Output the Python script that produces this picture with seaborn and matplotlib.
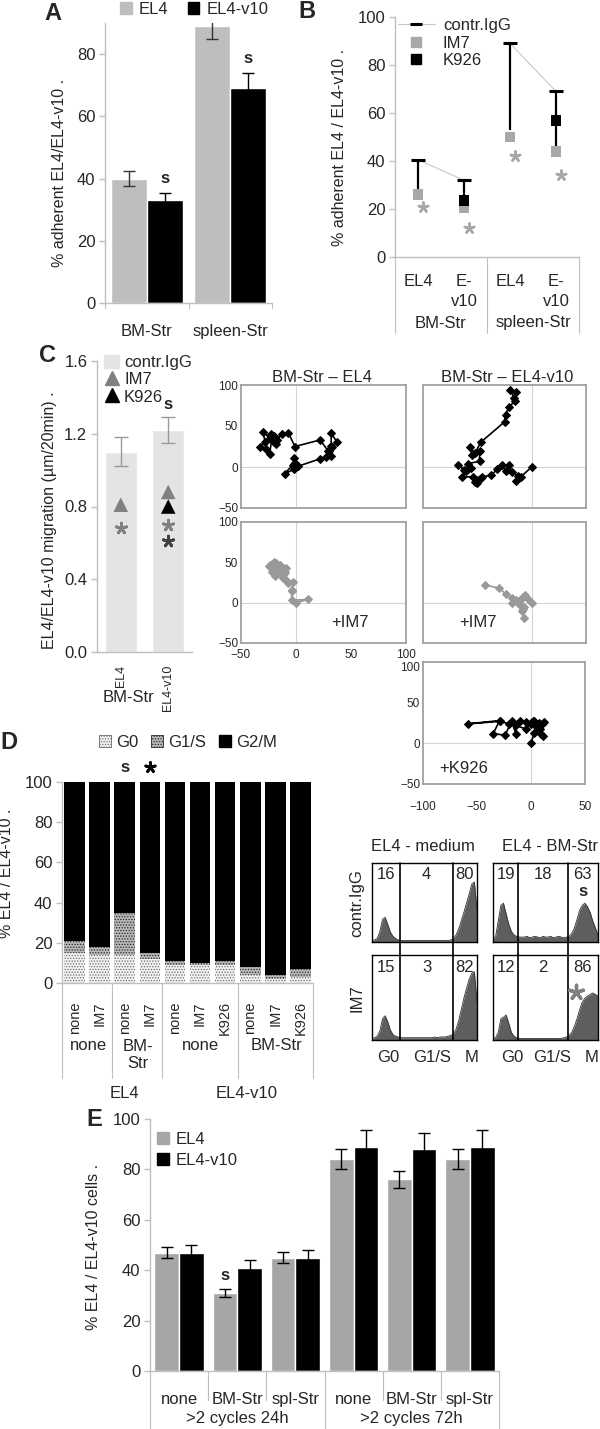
import numpy as np
import pandas as pd
import matplotlib
matplotlib.use("Agg")
import matplotlib.pyplot as plt
import seaborn as sns
from matplotlib.lines import Line2D
from matplotlib.patches import Patch

W, H = 600, 1429

# ---- A: adhesion to stroma
a_stroma = ["BM-Str", "spleen-Str"]
a_el4 = [40, 89]
a_el4_err = [2.3, 4.0]
a_v10 = [33, 69]
a_v10_err = [2.5, 5.0]

# ---- B: adhesion with antibodies
b_cells = ["EL4", "E-\nv10", "EL4", "E-\nv10"]
b_groups = ["BM-Str", "spleen-Str"]
b_contr = [40.5, 32, 89, 69]
b_contr_low = [27, 23, 53, 45]
b_im7 = [26, 20.5, 50, 44]
b_k926 = [np.nan, 23.5, np.nan, 57]
b_star = [21, 12, 42, 34]

# ---- C: migration speed
c_cells = ["EL4", "EL4-v10"]
c_contr = [1.10, 1.22]
c_contr_err = [0.08, 0.07]
c_im7 = [0.81, 0.88]
c_k926 = [np.nan, 0.80]
c_star_im7 = [0.68, 0.70]
c_star_k926 = [np.nan, 0.61]

# ---- C: migration tracks (µm)
el4_x = [0, -3, -10, -2, -1, -2, 2, 22, 27, 32, 30, 33, 37, 32, 32, 29, 22, -1, -7,
         -13, -17, -20, -23, -18, -22, -24, -27, -33, -28, -30, -24, -20]
el4_y = [0, 3, -8, -3, 5, 11, 1, 10, 12, 14, 19, 24, 31, 41, 26, 20, 33, 25, 42,
         40, 33, 38, 40, 28, 34, 16, 22, 25, 30, 43, 35, 30]
v10_x = [0, -10, -14, -13, -18, -21, -24, -27, -32, -37, -46, -50, -52, -47, -54, -64,
         -60, -68, -62, -56, -59, -48, -48, -55, -57, -52, -47, -25, -24, -21, -15, -14, -20, -16]
v10_y = [0, -12, -17, -11, -6, 3, -5, 2, -3, -10, -12, -20, -18, -13, -12, -12,
         -5, 3, -4, -1, 4, 7, 20, 15, 24, 17, 30, 55, 64, 73, 81, 91, 94, 84]
im7_el4_x = [0, 11, -4, -4, -4, -3, -7, -9, -11, -9, -13, -15, -18, -20, -23, -25, -22,
             -19, -16, -21, -24, -18, -14, -12, -17, -22, -20, -10]
im7_el4_y = [0, 4, 3, 14, 16, 25, 24, 28, 35, 43, 40, 47, 43, 50, 46, 45, 38,
             33, 37, 41, 47, 49, 45, 30, 36, 42, 35, 38]
im7_v10_x = [0, -3, -6, -8, -12, -10, -7, -9, -7, -8, -12, -14, -10, -18, -18, -24, -30, -43]
im7_v10_y = [0, 4, 10, 7, 2, -3, -5, -10, -19, -8, -2, 3, 5, 0, 6, 11, 18, 22]
k926_x = [0, 3, 9, 11, 8, 5, 2, 0, -5, -10, -14, -14, -18, -24, -35, -29, -58, -29,
          -20, -5, 0, 4, 7, 3, 10, 12, 6]
k926_y = [0, 13, 12, 9, 18, 23, 28, 24, 26, 27, 22, 12, 27, 10, 12, 28, 24, 27,
          24, 18, 25, 22, 25, 28, 24, 26, 20]

# ---- D: cell cycle (%)
d_treat = ["none", "IM7", "none", "IM7", "none", "IM7", "K926", "none", "IM7", "K926"]
d_g0 = [15, 14, 14, 12, 9, 9, 9, 4, 2, 3]
d_g1s = [6, 4, 21, 3, 2, 1, 2, 4, 2, 4]
d_g2m = [79, 82, 65, 85, 89, 90, 89, 92, 96, 93]

# ---- D: flow histograms (relative counts along DNA channel)
flow_x = np.arange(0, 100.1, 2.5)
flow_med_contr = [0.02, 0.03, 0.05, 0.15, 0.32, 0.35, 0.25, 0.14, 0.08, 0.05, 0.03, 0.02,
                  0.02, 0.02, 0.02, 0.02, 0.02, 0.02, 0.02, 0.02, 0.02, 0.02, 0.02, 0.02,
                  0.02, 0.02, 0.02, 0.02, 0.02, 0.02, 0.03, 0.05,
                  0.10, 0.18, 0.30, 0.42, 0.55, 0.68, 0.82, 0.85, 0.45]
flow_bm_contr = [0.03, 0.08, 0.30, 0.52, 0.55, 0.40, 0.25, 0.15, 0.10, 0.08, 0.07, 0.07,
                 0.07, 0.08, 0.06, 0.07, 0.08, 0.07, 0.06, 0.08, 0.07, 0.07, 0.08, 0.06,
                 0.07, 0.08, 0.07, 0.06, 0.07, 0.08,
                 0.12, 0.20, 0.32, 0.45, 0.52, 0.55, 0.50, 0.42, 0.30, 0.20, 0.10]
flow_med_im7 = [0.02, 0.03, 0.05, 0.12, 0.28, 0.32, 0.24, 0.13, 0.07, 0.05, 0.04, 0.03,
                0.03, 0.03, 0.03, 0.03, 0.03, 0.03, 0.03, 0.03, 0.03, 0.03, 0.03, 0.03,
                0.04, 0.03, 0.04, 0.04, 0.04, 0.05, 0.06, 0.08,
                0.14, 0.25, 0.40, 0.55, 0.68, 0.80, 0.88, 0.90, 0.50]
flow_bm_im7 = [0.02, 0.03, 0.10, 0.28, 0.30, 0.33, 0.22, 0.10, 0.05, 0.03, 0.02, 0.02,
               0.02, 0.02, 0.02, 0.02, 0.02, 0.02, 0.02, 0.02, 0.02, 0.02, 0.02, 0.02,
               0.02, 0.02, 0.02, 0.03, 0.04, 0.06,
               0.10, 0.18, 0.28, 0.40, 0.50, 0.55, 0.58, 0.60, 0.62, 0.60, 0.58]
flow_pct_med_contr = [16, 4, 80]
flow_pct_bm_contr = [19, 18, 63]
flow_pct_med_im7 = [15, 3, 82]
flow_pct_bm_im7 = [12, 2, 86]
gates_medium = [27, 77]
gates_bm = [24, 71]

# ---- E: proliferation
e_cond = ["none", "BM-Str", "spl-Str", "none", "BM-Str", "spl-Str"]
e_period = [">2 cycles 24h"] * 3 + [">2 cycles 72h"] * 3
e_el4 = [47, 31, 45, 84, 76, 84]
e_el4_err = [2.3, 1.7, 2.3, 4.0, 3.5, 4.0]
e_v10 = [47, 41, 45, 89, 88, 89]
e_v10_err = [3.0, 3.0, 3.0, 6.5, 6.5, 6.5]

AX_GRAY = "#BFBFBF"
GRAY_A = "#BEBEBE"
GRAY_B = "#A8A8A8"
GRAY_C = "#808080"
LIGHT_C = "#E4E4E4"
GRAY_E = "#A6A6A6"
FS = 12
STAR = (5, 2, 0)  # five-armed asterisk marker

sns.set_theme(style="white")
plt.rcParams["font.family"] = ["Liberation Sans", "DejaVu Sans"]
plt.rcParams["hatch.linewidth"] = 0.6

fig = plt.figure(figsize=(W / 100, H / 100), dpi=100)


def add_ax(x0, y0, x1, y1):
    return fig.add_axes([x0 / W, 1 - y1 / H, (x1 - x0) / W, (y1 - y0) / H])


def ftext(x, y, s, **kw):
    kw.setdefault("ha", "center")
    kw.setdefault("va", "center")
    kw.setdefault("fontsize", FS)
    fig.text(x / W, 1 - y / H, s, **kw)


def drop_line(ax, xval, px, color=AX_GRAY, lw=0.8):
    frac = px / ax.bbox.height
    ax.plot([xval, xval], [0, -frac], transform=ax.get_xaxis_transform(),
            clip_on=False, color=color, lw=lw)


def stars(ax, xs, ys, color, size=70, lw=2.0):
    ax.scatter(xs, ys, marker=STAR, s=size, color=color, linewidths=lw, zorder=5,
               clip_on=False)


def style_bars(ax):
    sns.despine(ax=ax)
    for s in ("left", "bottom"):
        ax.spines[s].set_color(AX_GRAY)
        ax.spines[s].set_linewidth(1)
    ax.tick_params(axis="y", left=True, length=4, width=1, color=AX_GRAY,
                   labelsize=FS, pad=3)
    ax.tick_params(axis="x", bottom=False, labelsize=FS)
    ax.set_xlabel("")
    ax.set_ylabel("")


def letter(x, y, s):
    ftext(x, y, s, fontsize=17, fontweight="bold")


# ================= A
ax_a = add_ax(105, 23, 272, 303)
df_a = pd.DataFrame({"stroma": a_stroma * 2,
                     "line": ["EL4"] * 2 + ["EL4-v10"] * 2,
                     "pct": a_el4 + a_v10})
sns.barplot(df_a, x="stroma", y="pct", hue="line", palette=[GRAY_A, "black"],
            width=0.86, saturation=1, errorbar=None, legend=False, ax=ax_a)
half = 0.86 / 4
xa = np.arange(2)
ax_a.errorbar(xa - half, a_el4, yerr=a_el4_err, fmt="none", ecolor="#333333",
              elinewidth=1, capsize=4)
ax_a.errorbar(xa + half, a_v10, yerr=a_v10_err, fmt="none", ecolor="black",
              elinewidth=1, capsize=4)
for i in range(2):
    ax_a.text(i + half, a_v10[i] + a_v10_err[i] + 4.5, "s", ha="center", va="center",
              fontsize=FS, fontweight="bold")
style_bars(ax_a)
ax_a.set_ylim(0, 90)
ax_a.set_yticks(range(0, 81, 20))
ax_a.set_xlim(-0.5, 1.5)
ax_a.set_xticks(xa, a_stroma)
ax_a.tick_params(axis="x", pad=9)
for xv in (-0.5, 0.5, 1.5):
    drop_line(ax_a, xv, 5)
fig.legend(handles=[Patch(color=GRAY_A, label="EL4"), Patch(color="black", label="EL4-v10")],
           loc="center", bbox_to_anchor=(194 / W, 1 - 9 / H), ncol=2, frameon=False,
           fontsize=FS, handlelength=0.7, handleheight=0.7, handletextpad=0.4,
           columnspacing=1.2)
ftext(60, 173, "% adherent EL4/EL4-v10 .", rotation=90, fontsize=11.5)
letter(53, 13, "A")

# ================= B
ax_b = add_ax(395, 17, 579, 257)
xb = np.arange(4)
for g in range(2):
    sns.lineplot(x=xb[2 * g:2 * g + 2], y=b_contr[2 * g:2 * g + 2], color="#C8C8C8",
                 lw=0.8, ax=ax_b)
ax_b.vlines(xb, b_contr_low, b_contr, color="black", lw=1.6)
sns.scatterplot(x=xb, y=b_im7, marker="s", color=GRAY_B, s=55, edgecolor="none",
                ax=ax_b, zorder=3)
sns.scatterplot(x=xb, y=b_k926, marker="s", color="black", s=60, edgecolor="none",
                ax=ax_b, zorder=4)
ax_b.scatter(xb, b_contr, marker="_", s=90, color="black", linewidths=2.2, zorder=4)
stars(ax_b, xb + 0.1, b_star, GRAY_B, size=50, lw=1.8)
style_bars(ax_b)
ax_b.set_ylim(0, 100)
ax_b.set_yticks(range(0, 101, 20))
ax_b.set_xlim(-0.5, 3.5)
ax_b.set_xticks(xb, b_cells, linespacing=1.45)
ax_b.tick_params(axis="x", pad=6)
ftext(441, 323, b_groups[0])
ftext(533, 323, b_groups[1])
for xv in (-0.5, 1.5, 3.5):
    drop_line(ax_b, xv, 76)
ax_b.legend([Line2D([], [], color="#C8C8C8", lw=0.8, marker="_", mec="black", mew=2.2, ms=9),
             Line2D([], [], ls="none", marker="s", color=GRAY_B, ms=7),
             Line2D([], [], ls="none", marker="s", color="black", ms=7)],
            ["contr.IgG", "IM7", "K926"], loc="upper left",
            bbox_to_anchor=(398 / W, 1 - 18 / H), bbox_transform=fig.transFigure,
            frameon=False, fontsize=FS, labelspacing=0.15, handlelength=2.2,
            handletextpad=0.5, borderaxespad=0, borderpad=0)
ftext(340, 147, "% adherent EL4 / EL4-v10 .", rotation=90, fontsize=11.5)
letter(307, 11, "B")

# ================= C bars
ax_c = add_ax(97, 361, 192, 652)
df_c = pd.DataFrame({"cells": c_cells, "speed": c_contr})
sns.barplot(df_c, x="cells", y="speed", color=LIGHT_C, width=0.68, saturation=1,
            errorbar=None, ax=ax_c)
ax_c.errorbar(range(2), c_contr, yerr=c_contr_err, fmt="none", ecolor="#999999",
              elinewidth=1, capsize=5)
sns.scatterplot(x=[0, 1], y=c_im7, marker="^", color=GRAY_C, s=110, edgecolor="none",
                ax=ax_c, zorder=3)
sns.scatterplot(x=[0, 1], y=c_k926, marker="^", color="black", s=110, edgecolor="none",
                ax=ax_c, zorder=4)
stars(ax_c, [0, 1], c_star_im7, GRAY_C, size=60)
stars(ax_c, [0, 1], c_star_k926, "#404040", size=60)
ax_c.text(1, c_contr[1] + c_contr_err[1] + 0.07, "s", ha="center", va="center",
          fontsize=FS, fontweight="bold")
style_bars(ax_c)
ax_c.set_ylim(0, 1.6)
ax_c.set_yticks([0, 0.4, 0.8, 1.2, 1.6], ["0.0", "0.4", "0.8", "1.2", "1.6"])
ax_c.set_xlim(-0.5, 1.5)
ax_c.set_xticks([0, 1], c_cells, rotation=90, fontsize=9)
ax_c.tick_params(axis="x", pad=3)
ax_c.legend([Patch(color=LIGHT_C),
             Line2D([], [], ls="none", marker="^", color=GRAY_C, ms=10),
             Line2D([], [], ls="none", marker="^", color="black", ms=10)],
            ["contr.IgG", "IM7", "K926"], loc="upper left",
            bbox_to_anchor=(104 / W, 1 - 355 / H), bbox_transform=fig.transFigure,
            frameon=False, fontsize=FS, labelspacing=0.12, handlelength=0.9,
            handleheight=0.8, handletextpad=0.3, borderaxespad=0, borderpad=0)
ftext(128, 697, "BM-Str")
ftext(50, 520, "EL4/EL4-v10 migration (µm/20min) .", rotation=90, fontsize=11.5)
letter(48, 355, "C")


# ================= C tracks
def track(rect, xs, ys, color, xlim, ylab=True, xlab=True, note=None, xpad=2):
    ax = add_ax(*rect)
    ax.axhline(0, color="#D4D4D4", lw=0.8, zorder=0)
    ax.axvline(0, color="#D4D4D4", lw=0.8, zorder=0)
    sns.lineplot(x=xs, y=ys, sort=False, estimator=None, color=color, lw=1.2,
                 marker="D", markersize=4.5, markeredgecolor=color, ax=ax)
    ax.set_xlim(*xlim)
    ax.set_ylim(-50, 100)
    ax.set_yticks([-50, 0, 50, 100])
    ax.set_xticks(list(range(xlim[0], xlim[1] + 1, 50)))
    for s in ax.spines.values():
        s.set_color("#A0A0A0")
        s.set_linewidth(1.3)
    ax.tick_params(length=0, labelsize=8.5, pad=2)
    ax.tick_params(axis="x", pad=xpad)
    if not ylab:
        ax.set_yticklabels([])
    if not xlab:
        ax.set_xticklabels([])
    if note:
        ax.text(note[1], note[2], note[0], transform=ax.transAxes, fontsize=FS,
                ha="center", va="center")
    return ax


track((241, 385, 406, 508), el4_x, el4_y, "black", (-50, 100), xlab=False)
track((423, 385, 586, 508), v10_x, v10_y, "black", (-100, 50), ylab=False, xlab=False)
track((241, 522, 406, 643), im7_el4_x, im7_el4_y, "#999999", (-50, 100),
      note=("+IM7", 0.66, 0.17), xpad=4)
track((423, 522, 586, 643), im7_v10_x, im7_v10_y, "#999999", (-100, 50),
      ylab=False, xlab=False, note=("+IM7", 0.34, 0.17))
ax_k = track((423, 662, 585, 784), k926_x, k926_y, "black", (-100, 50),
             note=("+K926", 0.25, 0.13), xpad=12)
ax_k.get_yticklabels()[-1].set_va("top")
ftext(322, 377, "BM-Str – EL4")
ftext(507, 377, "BM-Str – EL4-v10")


# ================= D flow histograms
def flow(rect, heights, gates, pct, extend=0.0):
    ax = add_ax(*rect)
    ax.fill_between(flow_x, heights, color="#5E5E5E", lw=0)
    ax.plot(flow_x, heights, color="#303030", lw=0.6)
    for g in gates:
        ax.axvline(g, ymin=-extend, ymax=1, color="black", lw=1.2, clip_on=False)
    ax.set_xlim(0, 100)
    ax.set_ylim(0, 1.12)
    ax.set_xticks([])
    ax.set_yticks([])
    for s in ax.spines.values():
        s.set_color("black")
        s.set_linewidth(1)
    edges = [0] + gates + [100]
    for k in range(3):
        ax.text((edges[k] + edges[k + 1]) / 2, 0.95, str(pct[k]), fontsize=FS,
                ha="center", va="center")
    return ax


ax_f1 = flow((372, 863, 477, 942), flow_med_contr, gates_medium, flow_pct_med_contr, extend=0.17)
ax_f2 = flow((493, 863, 598, 942), flow_bm_contr, gates_bm, flow_pct_bm_contr, extend=0.17)
flow((372, 955, 477, 1040), flow_med_im7, gates_medium, flow_pct_med_im7)
ax_f4 = flow((493, 955, 598, 1040), flow_bm_im7, gates_bm, flow_pct_bm_im7)
ax_f2.text(86, 0.71, "s", fontsize=FS, fontweight="bold", ha="center", va="center")
stars(ax_f4, [79], [0.63], GRAY_C, size=110, lw=2.4)
ftext(423, 846, "EL4 - medium")
ftext(550, 846, "EL4 - BM-Str")
ftext(357, 903, "contr.IgG", rotation=90)
ftext(357, 998, "IM7", rotation=90)
for xp, lab in zip([388, 432, 472, 512, 552, 592], ["G0", "G1/S", "M", "G0", "G1/S", "M"]):
    ftext(xp, 1058, lab)

# ================= D stacked bars
ax_d = add_ax(62, 782, 313, 983)
xd = np.arange(len(d_treat))
g0_style = dict(facecolor="#F2F2F2", edgecolor="#6A6A6A", hatch="......")
g1_style = dict(facecolor="#B8B8B8", edgecolor="#2A2A2A", hatch="......")
ax_d.bar(xd, d_g0, width=0.82, lw=0, **g0_style)
ax_d.bar(xd, d_g1s, bottom=d_g0, width=0.82, lw=0, **g1_style)
ax_d.bar(xd, d_g2m, bottom=np.add(d_g0, d_g1s), width=0.82, color="black", lw=0)
style_bars(ax_d)
ax_d.set_ylim(0, 100)
ax_d.set_yticks(range(0, 101, 20))
ax_d.set_xlim(-0.5, 9.5)
ax_d.set_xticks(xd, d_treat, rotation=90, fontsize=10.5)
ax_d.tick_params(axis="x", pad=7)
for xv in (-0.5, 1.5, 3.5, 6.5, 9.5):
    drop_line(ax_d, xv, 95)
ftext(88, 1045, "none")
ftext(138, 1055, "BM-\nStr", linespacing=1.1)
ftext(200, 1045, "none")
ftext(276, 1045, "BM-Str")
ftext(124, 1093, "EL4")
ftext(247, 1093, "EL4-v10")
ax_d.text(2, 107, "s", fontsize=FS, fontweight="bold", ha="center", va="center")
stars(ax_d, [3], [107.5], "black", size=50, lw=2.0)
fig.legend(handles=[Patch(label="G0", lw=0.6, **g0_style),
                    Patch(label="G1/S", lw=0.6, **g1_style),
                    Patch(color="black", label="G2/M")],
           loc="center", bbox_to_anchor=(188 / W, 1 - 742 / H), ncol=3, frameon=False,
           fontsize=FS, handlelength=0.7, handleheight=0.7, handletextpad=0.3,
           columnspacing=0.8)
ftext(7, 873, "% EL4 / EL4-v10 .", rotation=90, fontsize=11.5)
letter(9, 742, "D")

# ================= E
ax_e = add_ax(150, 1119, 499, 1371)
keys = [f"{c}|{p}" for c, p in zip(e_cond, e_period)]
df_e = pd.DataFrame({"key": keys * 2, "line": ["EL4"] * 6 + ["EL4-v10"] * 6,
                     "pct": e_el4 + e_v10})
sns.barplot(df_e, x="key", y="pct", hue="line", order=keys, palette=[GRAY_E, "black"],
            width=0.85, saturation=1, errorbar=None, legend=False, ax=ax_e)
half_e = 0.85 / 4
xe = np.arange(6)
ax_e.errorbar(xe - half_e, e_el4, yerr=e_el4_err, fmt="none", ecolor="black",
              elinewidth=1, capsize=4)
ax_e.errorbar(xe + half_e, e_v10, yerr=e_v10_err, fmt="none", ecolor="black",
              elinewidth=1, capsize=4)
ax_e.text(1 - half_e, e_el4[1] + e_el4_err[1] + 5, "s", fontsize=FS, fontweight="bold",
          ha="center", va="center")
style_bars(ax_e)
ax_e.set_ylim(0, 100)
ax_e.set_yticks(range(0, 101, 20))
ax_e.set_xlim(-0.5, 5.5)
ax_e.set_xticks(xe, e_cond)
ax_e.tick_params(axis="x", pad=9)
for xv in (0.5, 1.5, 3.5, 4.5):
    drop_line(ax_e, xv, 29)
for xv in (-0.5, 2.5, 5.5):
    drop_line(ax_e, xv, 60)
ftext(237, 1418, e_period[0])
ftext(411, 1418, e_period[3])
ax_e.legend([Patch(color=GRAY_E), Patch(color="black")], ["EL4", "EL4-v10"],
            loc="upper left", bbox_to_anchor=(157 / W, 1 - 1132 / H),
            bbox_transform=fig.transFigure, frameon=False, fontsize=FS,
            labelspacing=0.35, handlelength=0.7, handleheight=0.7, handletextpad=0.4,
            borderaxespad=0, borderpad=0)
ftext(93, 1247, "% EL4 / EL4-v10 cells .", rotation=90, fontsize=11.5)
letter(94, 1120, "E")

fig.savefig("out.png", dpi=100)
